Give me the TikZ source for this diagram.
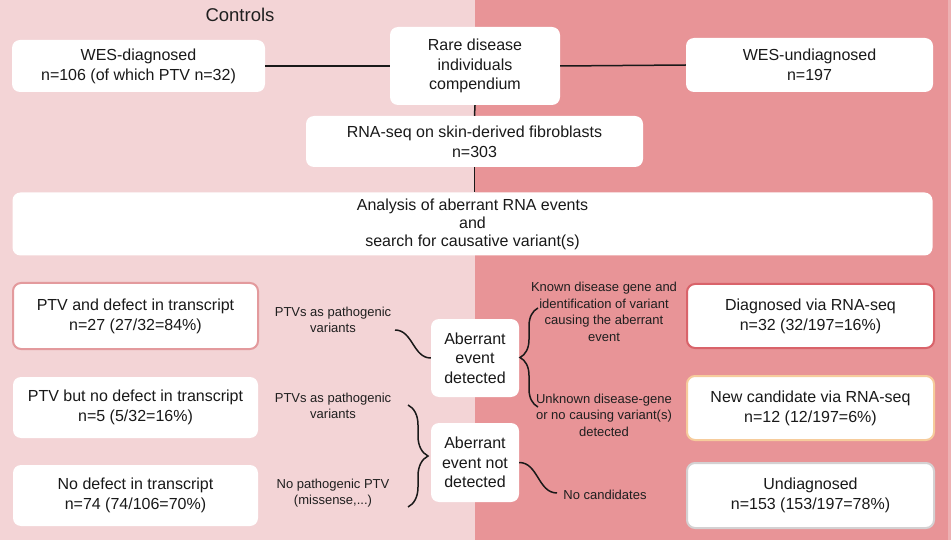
\documentclass[tikz,border=0pt]{standalone}
\usepackage{fontspec}
\setmainfont{Liberation Sans}
\usetikzlibrary{decorations.pathreplacing}
\definecolor{leftbg}{HTML}{F3D4D6}
\definecolor{rightbg}{HTML}{E89497}
\definecolor{edgebg}{HTML}{EDB0B2}
\definecolor{redA}{HTML}{E39A9D}
\definecolor{redB}{HTML}{D9636A}
\definecolor{peach}{HTML}{F6CC9C}
\definecolor{greyb}{HTML}{D4D1D2}
\tikzset{
  box/.style={draw=none, fill=white, rounded corners=8pt, align=center, inner sep=0pt,
    font=\fontsize{16}{20}\selectfont, text=black!90},
  lbl/.style={align=center, font=\fontsize{13}{16.5}\selectfont, text=black!88, inner sep=0pt},
  conn/.style={line width=1.5pt, black!90},
  brc/.style={line width=1.5pt, black!90, decorate, decoration={brace, aspect=0.5}},
}
\begin{document}
\begin{tikzpicture}[x=1pt, y=-1pt]
\useasboundingbox (0,0) rectangle (951,540);
\fill[leftbg] (0,0) rectangle (475,540);
\fill[rightbg] (475,0) rectangle (951,540);
\fill[edgebg] (948,0) rectangle (951,540);
\node[font=\fontsize{18.5}{22}\selectfont, text=black!88] (ctl) at (240,15) {Controls};

\node[box, minimum width=253pt, minimum height=52pt] (wesd) at (138.5,66) {WES-diagnosed\\n=106 (of which PTV n=32)};
\node[box, minimum width=170pt, minimum height=78pt, font=\fontsize{16}{19.5}\selectfont] (rare) at (475,66) {Rare disease\\individuals\\compendium};
\node[box, minimum width=247pt, minimum height=54pt] (wesu) at (809.5,65) {WES-undiagnosed\\n=197};
\node[box, minimum width=337pt, minimum height=51pt] (rna) at (474.5,141.5) {RNA-seq on skin-derived fibroblasts\\n=303};
\node[box, minimum width=920pt, minimum height=63pt, font=\fontsize{16}{18}\selectfont] (ana) at (472.5,224) {Analysis of aberrant RNA events\\and\\search for causative variant(s)};

\draw[conn] (wesd.east) -- (rare.west);
\draw[conn] (rare.east) -- (wesu.west);
\draw[conn] (rare.south) -- (rna.north);
\draw[conn] (rna.south) -- (rna.south |- ana.north);

% left column
\node[box, draw=redA, line width=2pt, minimum width=245pt, minimum height=66pt] (l1) at (135.5,316) {PTV and defect in transcript\\n=27 (27/32=84\%)};
\node[box, minimum width=245pt, minimum height=61pt] (l2) at (135.5,407.5) {PTV but no defect in transcript\\n=5 (5/32=16\%)};
\node[box, minimum width=245pt, minimum height=61pt] (l3) at (135.5,495.5) {No defect in transcript\\n=74 (74/106=70\%)};

\node[lbl] (t1) at (333,320) {PTVs as pathogenic\\variants};
\node[lbl] (t2) at (333,406) {PTVs as pathogenic\\variants};
\node[lbl] (t3) at (333,493) {No pathogenic PTV\\(missense,...)};

% center
\node[box, minimum width=88pt, minimum height=78pt, font=\fontsize{16}{19.5}\selectfont] (det) at (475,358) {Aberrant\\event\\detected};
\node[box, minimum width=88pt, minimum height=79pt, font=\fontsize{16}{19.5}\selectfont] (ndet) at (475,462.5) {Aberrant\\event not\\detected};

\coordinate (s1) at (395,330);
\draw[conn] (s1) to[out=0, in=180] (det.west);
\coordinate (b1a) at (408,405);
\coordinate (b1b) at (408,507);
\draw[brc, decoration={amplitude=20pt}] (b1a) -- (b1b);
\coordinate (b2a) at (538,407);
\coordinate (b2b) at (538,308);
\draw[brc, decoration={amplitude=18pt}] (b2a) -- (b2b);
\coordinate (s2) at (557,493);
\draw[conn] (ndet.east) to[out=0, in=180] (s2);

% right labels
\node[lbl] (k1) at (604,312) {Known disease gene and\\identification of variant\\causing the aberrant\\event};
\node[lbl] (k2) at (604,415) {Unknown disease-gene\\or no causing variant(s)\\detected};
\node[lbl] (k3) at (605,495) {No candidates};

% right column
\node[box, draw=redB, line width=2pt, minimum width=247pt, minimum height=64pt] (r1) at (810.5,316) {Diagnosed via RNA-seq\\n=32 (32/197=16\%)};
\node[box, draw=peach, line width=2pt, minimum width=247pt, minimum height=64pt] (r2) at (810.5,408) {New candidate via RNA-seq\\n=12 (12/197=6\%)};
\node[box, draw=greyb, line width=2pt, minimum width=247pt, minimum height=65pt] (r3) at (810.5,495.5) {Undiagnosed\\n=153 (153/197=78\%)};
\end{tikzpicture}
\end{document}
